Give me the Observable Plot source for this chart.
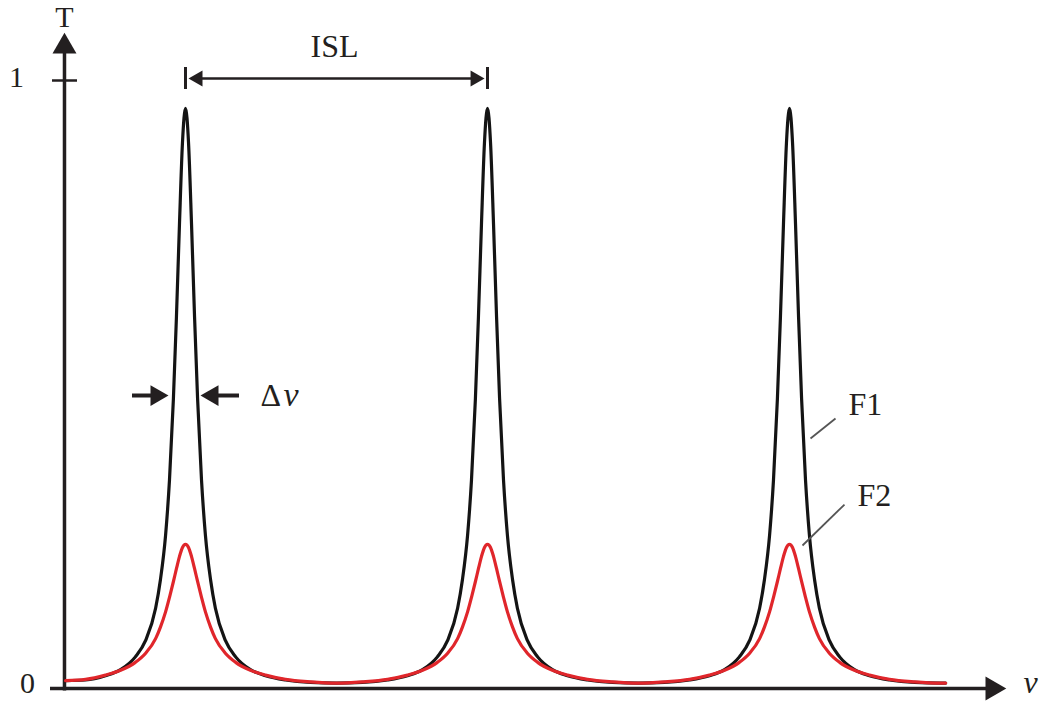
<!DOCTYPE html>
<html><head><meta charset="utf-8">
<script src="https://cdn.jsdelivr.net/npm/d3@7"></script>
<script src="https://cdn.jsdelivr.net/npm/@observablehq/plot@0.6"></script>
<style>body{margin:0;background:#fff}</style>
</head><body><div id="chart"></div>
<script>
// frequency (in units of the free spectral range, ISL)
const nu = [0.603,
  0.669, 0.735, 0.785, 0.834, 0.868, 0.901, 0.917, 0.934, 0.947, 0.960, 0.970, 0.980, 0.990,
  1.000,
  1.010, 1.020, 1.030, 1.040, 1.053, 1.066, 1.083, 1.099, 1.132, 1.166, 1.215, 1.265, 1.331, 1.414,
  1.500,
  1.586, 1.669, 1.735, 1.785, 1.834, 1.868, 1.901, 1.917, 1.934, 1.947, 1.960, 1.970, 1.980, 1.990,
  2.000,
  2.010, 2.020, 2.030, 2.040, 2.053, 2.066, 2.083, 2.099, 2.132, 2.166, 2.215, 2.265, 2.331, 2.414,
  2.500,
  2.586, 2.669, 2.735, 2.785, 2.834, 2.868, 2.901, 2.917, 2.934, 2.947, 2.960, 2.970, 2.980, 2.990,
  3.000,
  3.010, 3.020, 3.030, 3.040, 3.053, 3.066, 3.083, 3.099, 3.132, 3.166, 3.215, 3.265, 3.331, 3.414,
  3.500, 3.517];
// transmission of filter F1 (black)
const f1 = [0.013,
  0.014, 0.021, 0.031, 0.052, 0.079, 0.132, 0.179, 0.252, 0.343, 0.477, 0.611, 0.763, 0.898,
  0.954,
  0.898, 0.763, 0.611, 0.477, 0.343, 0.252, 0.179, 0.132, 0.079, 0.052, 0.031, 0.021, 0.014, 0.010,
  0.009,
  0.010, 0.014, 0.021, 0.031, 0.052, 0.079, 0.132, 0.179, 0.252, 0.343, 0.477, 0.611, 0.763, 0.898,
  0.954,
  0.898, 0.763, 0.611, 0.477, 0.343, 0.252, 0.179, 0.132, 0.079, 0.052, 0.031, 0.021, 0.014, 0.010,
  0.009,
  0.010, 0.014, 0.021, 0.031, 0.052, 0.079, 0.132, 0.179, 0.252, 0.343, 0.477, 0.611, 0.763, 0.898,
  0.954,
  0.898, 0.763, 0.611, 0.477, 0.343, 0.252, 0.179, 0.132, 0.079, 0.052, 0.031, 0.021, 0.014, 0.010,
  0.009, 0.009];
// transmission of filter F2 (red)
const f2 = [0.013,
  0.015, 0.022, 0.030, 0.043, 0.058, 0.082, 0.101, 0.126, 0.150, 0.176, 0.197, 0.217, 0.232,
  0.237,
  0.232, 0.217, 0.197, 0.176, 0.150, 0.126, 0.101, 0.082, 0.058, 0.043, 0.030, 0.022, 0.015, 0.011,
  0.009,
  0.011, 0.015, 0.022, 0.030, 0.043, 0.058, 0.082, 0.101, 0.126, 0.150, 0.176, 0.197, 0.217, 0.232,
  0.237,
  0.232, 0.217, 0.197, 0.176, 0.150, 0.126, 0.101, 0.082, 0.058, 0.043, 0.030, 0.022, 0.015, 0.011,
  0.009,
  0.011, 0.015, 0.022, 0.030, 0.043, 0.058, 0.082, 0.101, 0.126, 0.150, 0.176, 0.197, 0.217, 0.232,
  0.237,
  0.232, 0.217, 0.197, 0.176, 0.150, 0.126, 0.101, 0.082, 0.058, 0.043, 0.030, 0.022, 0.015, 0.011,
  0.009, 0.009];

const yTickLabels = ["0", "1"];
const seriesLabels = ["F1", "F2"];

const rows = nu.map((v, i) => ({nu: v, F1: f1[i], F2: f2[i]}));

// annotation geometry (data units: nu, T)
const axisX0 = 0.5993;            // position of the vertical axis
const font = "'Liberation Serif', 'Times New Roman', Times, serif";
const ink = "#231f20";

const chart = Plot.plot({
  width: 1056,
  height: 701,
  margin: 0,
  x: {domain: [0.38742, 3.88411], axis: null},
  y: {domain: [-0.02138, 1.13158], axis: null},
  style: {background: "white", fontFamily: font},
  marks: [
    // axes
    Plot.ruleY([0], {x1: 0.553, x2: 3.672, stroke: ink, strokeWidth: 3.5}),
    Plot.ruleX([axisX0], {y1: -0.004, y2: 1.0559, stroke: ink, strokeWidth: 3.5}),
    Plot.dot([{x: axisX0, y: 1.0559}], {x: "x", y: "y", symbol: "triangle", r: 8.9, fill: ink, stroke: null}),
    Plot.dot([{x: 3.672, y: 0}], {x: "x", y: "y", symbol: "triangle", r: 8.9, rotate: 90, fill: ink, stroke: null}),
    Plot.ruleY([1], {x1: 0.5596, x2: 0.6424, stroke: ink, strokeWidth: 2.5}),
    Plot.text([{t: yTickLabels[1], x: 0.4404, y: 1.0049}, {t: yTickLabels[0], x: 0.4768, y: 0.0085}],
      {x: "x", y: "y", text: "t", fontSize: 30, fill: ink, fontFamily: font}),
    Plot.text([{t: "T", x: axisX0, y: 1.1036}], {x: "x", y: "y", text: "t", fontSize: 30, fill: ink, fontFamily: font}),
    Plot.text([{t: "ν", x: 3.798, y: 0.009}], {x: "x", y: "y", text: "t", fontSize: 32, fontStyle: "italic", fill: ink, fontFamily: font}),

    // curves
    Plot.line(rows, {x: "nu", y: "F1", stroke: "#141414", strokeWidth: 3.2, curve: "monotone-x"}),
    Plot.line(rows, {x: "nu", y: "F2", stroke: "#e0262b", strokeWidth: 3.2, curve: "monotone-x"}),

    // ISL dimension
    Plot.ruleY([1.0033], {x1: 1.02, x2: 1.98, stroke: ink, strokeWidth: 2.5}),
    Plot.ruleX([1.0, 2.0], {y1: 0.9852, y2: 1.0214, stroke: ink, strokeWidth: 3}),
    Plot.dot([{x: 1.0408, y: 1.0033, a: -90}, {x: 1.9593, y: 1.0033, a: 90}],
      {x: "x", y: "y", rotate: "a", symbol: "triangle", r: 6.0, fill: ink, stroke: null}),
    Plot.text([{t: "ISL", x: 1.4934, y: 1.0559}], {x: "x", y: "y", text: "t", fontSize: 32, fill: ink, fontFamily: font}),

    // Δν linewidth arrows
    Plot.ruleY([0.4819], {x1: 0.8245, x2: 0.900, stroke: ink, strokeWidth: 4}),
    Plot.ruleY([0.4819], {x1: 1.090, x2: 1.1788, stroke: ink, strokeWidth: 4}),
    Plot.dot([{x: 0.904, y: 0.4819, a: 90}, {x: 1.0894, y: 0.4819, a: -90}],
      {x: "x", y: "y", rotate: "a", symbol: "triangle", r: 7.7, fill: ink, stroke: null}),
    Plot.text([{t: "Δ", x: 1.2483, y: 0.4819}], {x: "x", y: "y", text: "t", fontSize: 32, textAnchor: "start", fill: ink, fontFamily: font}),
    Plot.text([{t: "ν", x: 1.3245, y: 0.4819}], {x: "x", y: "y", text: "t", fontSize: 34, fontStyle: "italic", textAnchor: "start", fill: ink, fontFamily: font}),

    // series labels with leader lines
    Plot.link([{x1: 3.0695, y1: 0.4112, x2: 3.1523, y2: 0.4441}, {x1: 3.0430, y1: 0.2352, x2: 3.1821, y2: 0.3026}],
      {x1: "x1", y1: "y1", x2: "x2", y2: "y2", stroke: "#555", strokeWidth: 1.8}),
    Plot.text([{t: seriesLabels[0], x: 3.1954, y: 0.4671}, {t: seriesLabels[1], x: 3.2252, y: 0.3174}],
      {x: "x", y: "y", text: "t", fontSize: 32, textAnchor: "start", fill: ink, fontFamily: font})
  ]
});
document.getElementById("chart").appendChild(chart);
</script>
</body></html>
